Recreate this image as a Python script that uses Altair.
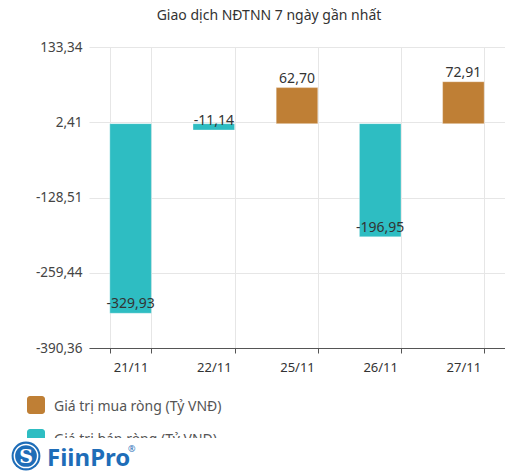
import altair as alt
import pandas as pd

dates = ["21/11", "22/11", "25/11", "26/11", "27/11"]
values = [-329.93, -11.14, 62.70, -196.95, 72.91]
series_names = ["Giá trị mua ròng (Tỷ VNĐ)", "Giá trị bán ròng (Tỷ VNĐ)"]
series_colors = ["#BF7F35", "#2EBDC2"]
y_ticks = [133.34, 2.41, -128.51, -259.44, -390.36]
y_domain = [-390.36, 133.34]
title_text = "Giao dịch NĐTNN 7 ngày gần nhất"
logo_text = "FiinPro"

FONT = "Noto Sans"
GRID = "#e6e6e6"
FMT = "replace(replace(format(datum.value, '.2f'), '.', ','), '\u2212', '-')"

df = pd.DataFrame({"date": dates, "value": values})
df["series"] = [series_names[0] if v >= 0 else series_names[1] for v in values]

color = alt.Color("series:N", scale=alt.Scale(domain=series_names, range=series_colors), legend=None)

x = alt.X("date:N", sort=dates, title=None,
          scale=alt.Scale(paddingInner=0.5, paddingOuter=0.25),
          axis=alt.Axis(labelAngle=0, tickBand="extent", grid=True, gridColor=GRID,
                        domainColor="#555", tickColor="#555", tickSize=5,
                        labelFontSize=13, labelColor="#333", labelPadding=8, labelFont=FONT))
y = alt.Y("value:Q", title=None,
          scale=alt.Scale(domain=y_domain, nice=False, zero=False),
          axis=alt.Axis(values=y_ticks, labelExpr=FMT, domain=False, ticks=False,
                        gridColor=GRID, labelFontSize=13.5, labelColor="#444",
                        labelPadding=7, labelFont=FONT))

base = alt.Chart(df)
bars = base.mark_bar(stroke="white", strokeOpacity=0.35, strokeWidth=1).encode(
    x=x, y=y, y2=alt.datum(0), color=color)
labels = base.transform_calculate(
    label=FMT
).mark_text(baseline="alphabetic", dy=-5, fontSize=14, color="#333", font=FONT).encode(
    x=x, y=y, text="label:N")

leg1_df = pd.DataFrame({"series": [series_names[0]]})
leg2_df = pd.DataFrame({"series": [series_names[1]]})
leg1_sym = alt.Chart(leg1_df).mark_rect(cornerRadius=3).encode(
    x=alt.value(-62), x2=alt.value(-44), y=alt.value(349), y2=alt.value(367), color=color)
leg1_txt = alt.Chart(leg1_df).mark_text(align="left", baseline="middle", fontSize=14,
                                         color="#555", font=FONT).encode(
    x=alt.value(-35), y=alt.value(360), text="series:N")
leg2_sym = alt.Chart(leg2_df).mark_rect(cornerRadius=3).encode(
    x=alt.value(-62), x2=alt.value(-44), y=alt.value(382), y2=alt.value(400), color=color)
leg2_txt = alt.Chart(leg2_df).mark_text(align="left", baseline="middle", fontSize=14,
                                         color="#555", font=FONT).encode(
    x=alt.value(-35), y=alt.value(393), text="series:N")

one = pd.DataFrame({"a": [0]})
cover = alt.Chart(one).mark_rect(color="white").encode(
    x=alt.value(-89), x2=alt.value(211), y=alt.value(391), y2=alt.value(430))
logo_disc = alt.Chart(one).mark_point(shape="circle", filled=True, size=830,
                                      color="#1E6DB8", opacity=1).encode(
    x=alt.value(-63), y=alt.value(409))
logo_ring = alt.Chart(one).mark_point(shape="circle", filled=False, size=540,
                                      color="white", strokeWidth=1.5, opacity=1).encode(
    x=alt.value(-63), y=alt.value(409))
logo_s = alt.Chart(one).mark_text(text="S", font="DejaVu Serif", fontWeight="bold",
                                  fontSize=19, color="white", baseline="middle").encode(
    x=alt.value(-63), y=alt.value(410))
logo_word = alt.Chart(one).mark_text(text=logo_text, font=FONT, fontWeight="bold",
                                     fontSize=24, color="#1E6DB8", align="left",
                                     baseline="alphabetic").encode(
    x=alt.value(-42), y=alt.value(419))
logo_reg = alt.Chart(one).mark_text(text="®", font=FONT, fontSize=9, color="#1E6DB8",
                                    align="left", baseline="middle").encode(
    x=alt.value(39), y=alt.value(402))

chart = alt.layer(
    bars, labels, leg1_sym, leg1_txt, leg2_sym, leg2_txt, cover,
    logo_disc, logo_ring, logo_s, logo_word, logo_reg
).properties(
    width=416, height=301,
    title=alt.TitleParams(title_text, anchor="middle", dx=-28, fontSize=14,
                          fontWeight="normal", color="#333", font=FONT, offset=17),
    autosize=alt.AutoSizeParams(type="none"),
    padding={"left": 81, "top": 39, "right": 0, "bottom": 125},
).configure_view(stroke=None)

chart.save("out.html", embed_options={"renderer": "svg", "actions": False})
